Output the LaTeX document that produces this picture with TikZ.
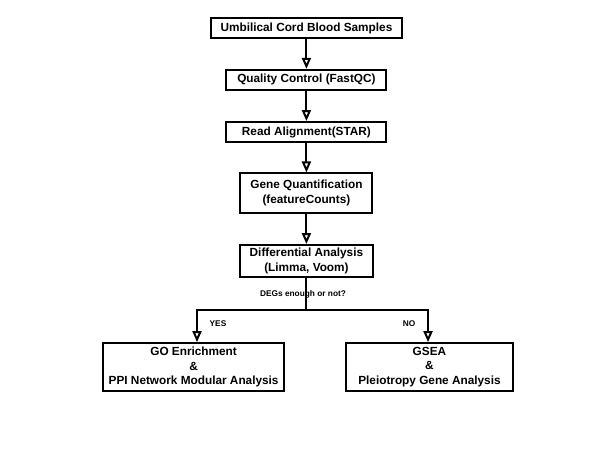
\documentclass[tikz,border=0pt]{standalone}
\usepackage{fontspec}
\setmainfont{Liberation Sans}
\usetikzlibrary{arrows.meta}

\begin{document}
\begin{tikzpicture}[
		stepbox/.style={draw,line width=2bp,inner sep=0pt,align=center,
			font=\bfseries\fontsize{11.8bp}{14.5bp}\selectfont},
		flow/.style={line width=2bp,-{Triangle[open,length=11bp,width=9bp]}},
		tag/.style={font=\bfseries\fontsize{8.3bp}{10bp}\selectfont}
	]
		\useasboundingbox (0,0) rectangle (21.59,-16.19);

		% Steps of the pipeline
		\node[stepbox,minimum width=6.74cm,minimum height=0.71cm] (samples) at (10.81,-1.00) {Umbilical Cord Blood Samples};
		\node[stepbox,minimum width=5.64cm,minimum height=0.71cm] (qc) at (10.81,-2.82) {Quality Control (FastQC)};
		\node[stepbox,minimum width=5.64cm,minimum height=0.71cm] (align) at (10.81,-4.66) {Read Alignment(STAR)};
		\node[stepbox,minimum width=4.66cm,minimum height=1.38cm] (quant) at (10.81,-6.81) {Gene Quantification\\(featureCounts)};
		\node[stepbox,minimum width=4.69cm,minimum height=1.13cm] (diff) at (10.81,-9.21) {Differential Analysis\\(Limma, Voom)};
		\node[stepbox,minimum width=6.39cm,minimum height=1.69cm] (go) at (6.83,-12.95) {GO Enrichment\\\&\\PPI Network Modular Analysis};
		\node[stepbox,minimum width=5.89cm,minimum height=1.69cm] (gsea) at (15.15,-12.95) {GSEA\\\&\\Pleiotropy Gene Analysis};

		% Arrows between the steps
		\draw[flow] (samples) -- (qc);
		\draw[flow] (qc) -- (align);
		\draw[flow] (align) -- (quant);
		\draw[flow] (quant) -- (diff);

		% Split into the two branches
		\draw[line width=2bp] (diff) -- (10.81,-10.94) coordinate (split);
		\draw[flow] (split) -| ([xshift=0.12cm]go.north);
		\draw[flow] (split) -| ([xshift=-0.05cm]gsea.north);

		\node[tag] (question) at (10.69,-10.37) {DEGs enough or not?};
		\node[tag] (yes) at (7.69,-11.43) {YES};
		\node[tag] (no) at (14.43,-11.43) {NO};
	
	\end{tikzpicture}
\end{document}
